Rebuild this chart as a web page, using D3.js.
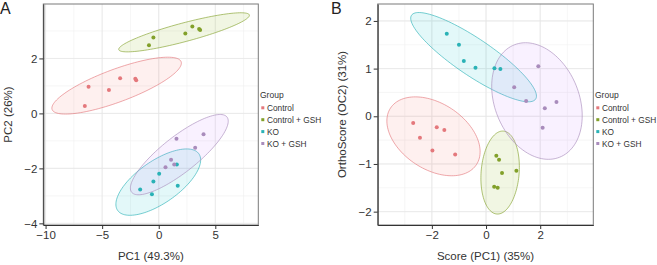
<!DOCTYPE html>
<html>
<head>
<meta charset="utf-8">
<script src="https://cdn.jsdelivr.net/npm/d3@7"></script>
<style>
  body { margin: 0; background: #fff; }
  text { font-family: "Liberation Sans", Arial, Helvetica, sans-serif; }
</style>
</head>
<body>
<script>
// groups and colours
const groups = ["Control", "Control + GSH", "KO", "KO + GSH"];
const pointColors = ["#E4787C", "#82A02A", "#2AB2B6", "#A98CBC"];
const fillColors = ["#F8766D", "#7CAE00", "#00BFC4", "#C77CFF"];

// panel A: PCA scores, one inner array per group
const pcaX = [
    [-6.53, -6.2, -4.4, -3.41, -2.07, -1.99],
    [-0.86, -0.47, 2.35, 2.97, 3.57, 3.66],
    [-1.64, -0.6, -0.47, 0.04, 1.6, 1.68],
    [1.57, 3.96, 3.22, 1.09, 1.37, 0.6]
];
const pcaY = [
    [0.27, 0.97, 0.85, 1.28, 1.26, 1.21],
    [2.48, 2.76, 2.91, 3.16, 3.07, 3.03],
    [-2.77, -2.94, -2.48, -2.2, -1.86, -2.63],
    [-0.92, -0.76, -1.25, -1.69, -1.86, -1.96]
];
// ellipse centre, end of major semi-axis, end of minor semi-axis (data units)
const pcaEllCenter = [[-3.72, 1.01], [2.24, 2.95], [-0.04, -2.5], [1.82, -1.5]];
const pcaEllMajor = [[1.98, 1.88], [8.01, 3.58], [3.55, -1.47], [6.01, -0.12]];
const pcaEllMinor = [[-3.22, 0.45], [2.44, 2.62], [1.03, -3.13], [2.89, -1.98]];
const pcaXTicks = [-10, -5, 0, 5];
const pcaYTicks = [-4, -2, 0, 2];

// panel B: OPLS-DA scores
const oplsX = [
    [-2.69, -2.44, -1.82, -1.54, -1.98, -1.14],
    [0.38, 0.48, 0.59, 1.12, 0.3, 0.43],
    [-1.45, -1.0, -0.82, -0.39, 0.31, 0.53],
    [1.93, 1.04, 1.48, 2.6, 2.17, 2.09]
];
const oplsY = [
    [-0.14, -0.45, -0.23, -0.29, -0.72, -0.8],
    [-0.83, -0.91, -1.19, -1.14, -1.48, -1.5],
    [1.73, 1.5, 1.16, 1.02, 1.01, 0.99],
    [1.05, 0.61, 0.32, 0.3, 0.17, -0.24]
];
const oplsEllCenter = [[-1.94, -0.42], [0.52, -1.18], [-0.46, 1.24], [1.88, 0.32]];
const oplsEllMajor = [[-0.35, -1.01], [0.4, -2.05], [1.83, 0.36], [2.71, -0.86]];
const oplsEllMinor = [[-2.6, -1.0], [1.22, -1.21], [-0.84, 0.92], [0.43, 0.0]];
const oplsXTicks = [-2, 0, 2];
const oplsYTicks = [-2, -1, 0, 1, 2];

const width = 657, height = 265;

const svg = d3.select("body").append("svg")
    .attr("width", width)
    .attr("height", height);

function drawPanel(p) {
    let x = d3.scaleLinear().domain(p.xDomain).range([p.left, p.right]);
    let y = d3.scaleLinear().domain(p.yDomain).range([p.bottom, p.top]);
    let g = svg.append("g");

    // grid, minor first then major
    let xStep = p.xTicks[1] - p.xTicks[0];
    let yStep = p.yTicks[1] - p.yTicks[0];
    let xMinor = d3.range(Math.ceil(p.xDomain[0] / (xStep / 2)), Math.floor(p.xDomain[1] / (xStep / 2)) + 1)
        .map(k => k * xStep / 2);
    let yMinor = d3.range(Math.ceil(p.yDomain[0] / (yStep / 2)), Math.floor(p.yDomain[1] / (yStep / 2)) + 1)
        .map(k => k * yStep / 2);

    g.append("g").selectAll("line").data(xMinor).enter().append("line")
        .attr("x1", d => x(d)).attr("x2", d => x(d))
        .attr("y1", p.top).attr("y2", p.bottom)
        .attr("stroke", "#f0f0f0").attr("stroke-width", 0.6);
    g.append("g").selectAll("line").data(yMinor).enter().append("line")
        .attr("y1", d => y(d)).attr("y2", d => y(d))
        .attr("x1", p.left).attr("x2", p.right)
        .attr("stroke", "#f0f0f0").attr("stroke-width", 0.6);
    g.append("g").selectAll("line").data(p.xTicks).enter().append("line")
        .attr("x1", d => x(d)).attr("x2", d => x(d))
        .attr("y1", p.top).attr("y2", p.bottom)
        .attr("stroke", "#e6e6e6").attr("stroke-width", 0.8);
    g.append("g").selectAll("line").data(p.yTicks).enter().append("line")
        .attr("y1", d => y(d)).attr("y2", d => y(d))
        .attr("x1", p.left).attr("x2", p.right)
        .attr("stroke", "#e6e6e6").attr("stroke-width", 0.8);

    // ellipses
    let line = d3.line().x(d => x(d[0])).y(d => y(d[1])).curve(d3.curveLinearClosed);
    let angles = d3.range(0, 120).map(i => i / 120 * 2 * Math.PI);
    groups.forEach(function(name, i) {
        let c = p.ellCenter[i], M = p.ellMajor[i], m = p.ellMinor[i];
        let pts = angles.map(t => [
            c[0] + (M[0] - c[0]) * Math.cos(t) + (m[0] - c[0]) * Math.sin(t),
            c[1] + (M[1] - c[1]) * Math.cos(t) + (m[1] - c[1]) * Math.sin(t)
        ]);
        g.append("path")
            .attr("d", line(pts))
            .attr("fill", fillColors[i])
            .attr("fill-opacity", 0.11)
            .attr("stroke", pointColors[i])
            .attr("stroke-opacity", 0.8)
            .attr("stroke-width", 0.8);
    });

    // points
    groups.forEach(function(name, i) {
        g.append("g").selectAll("circle")
            .data(p.xs[i].map((v, j) => [v, p.ys[i][j]]))
            .enter().append("circle")
            .attr("cx", d => x(d[0]))
            .attr("cy", d => y(d[1]))
            .attr("r", 2)
            .attr("fill", pointColors[i]);
    });

    // panel border
    g.append("rect")
        .attr("x", p.left).attr("y", p.top)
        .attr("width", p.right - p.left).attr("height", p.bottom - p.top)
        .attr("fill", "none").attr("stroke", "#7a7a7a").attr("stroke-width", 1);

    // axes
    let fmt = d3.format("~g");
    let xAxis = g.append("g")
        .attr("transform", "translate(0," + p.bottom + ")")
        .call(d3.axisBottom(x).tickValues(p.xTicks).tickFormat(fmt)
            .tickSize(4).tickPadding(2).tickSizeOuter(0));
    let yAxis = g.append("g")
        .attr("transform", "translate(" + p.left + ",0)")
        .call(d3.axisLeft(y).tickValues(p.yTicks).tickFormat(fmt)
            .tickSize(4).tickPadding(2).tickSizeOuter(0));
    [xAxis, yAxis].forEach(function(a) {
        a.select(".domain").attr("stroke", "#333");
        a.selectAll(".tick line").attr("stroke", "#333");
        a.selectAll("text")
            .attr("font-size", 11.5)
            .attr("fill", "#333")
            .style("font-family", "'Liberation Sans', Arial, sans-serif");
    });

    // titles
    g.append("text")
        .attr("x", (p.left + p.right) / 2).attr("y", 260)
        .attr("text-anchor", "middle")
        .attr("font-size", 11.5).attr("fill", "#333")
        .text(p.xLabel);
    g.append("text")
        .attr("transform", "translate(" + p.yLabelX + "," + ((p.top + p.bottom) / 2) + ") rotate(-90)")
        .attr("text-anchor", "middle")
        .attr("font-size", 11.5).attr("fill", "#333")
        .text(p.yLabel);
    g.append("text")
        .attr("x", p.letterX).attr("y", 14)
        .attr("font-size", 16).attr("fill", "#222")
        .text(p.letter);

    // legend
    let leg = g.append("g").attr("transform", "translate(" + p.legendX + ",0)");
    leg.append("text")
        .attr("x", 0).attr("y", 98)
        .attr("font-size", 8.5).attr("fill", "#333")
        .text("Group");
    groups.forEach(function(name, i) {
        let cy = 107.8 + i * 11.9;
        leg.append("rect")
            .attr("x", 1.3).attr("y", cy - 1.5)
            .attr("width", 3).attr("height", 3)
            .attr("fill", pointColors[i]);
        leg.append("text")
            .attr("x", 7).attr("y", cy + 3)
            .attr("font-size", 8.3).attr("fill", "#333")
            .text(name);
    });
}

drawPanel({
    left: 43.3, right: 258.3, top: 4, bottom: 225,
    xDomain: [-10.2, 8.8], yDomain: [-4.06, 3.98],
    xTicks: pcaXTicks, yTicks: pcaYTicks,
    xs: pcaX, ys: pcaY,
    ellCenter: pcaEllCenter, ellMajor: pcaEllMajor, ellMinor: pcaEllMinor,
    xLabel: "PC1 (49.3%)", yLabel: "PC2 (26%)", yLabelX: 12,
    letter: "A", letterX: 0, legendX: 260
});

drawPanel({
    left: 377.7, right: 593.3, top: 4, bottom: 225,
    xDomain: [-4.0, 3.96], yDomain: [-2.28, 2.355],
    xTicks: oplsXTicks, yTicks: oplsYTicks,
    xs: oplsX, ys: oplsY,
    ellCenter: oplsEllCenter, ellMajor: oplsEllMajor, ellMinor: oplsEllMinor,
    xLabel: "Score (PC1) (35%)", yLabel: "OrthoScore (OC2) (31%)", yLabelX: 346,
    letter: "B", letterX: 331, legendX: 595
});
</script>
</body>
</html>
